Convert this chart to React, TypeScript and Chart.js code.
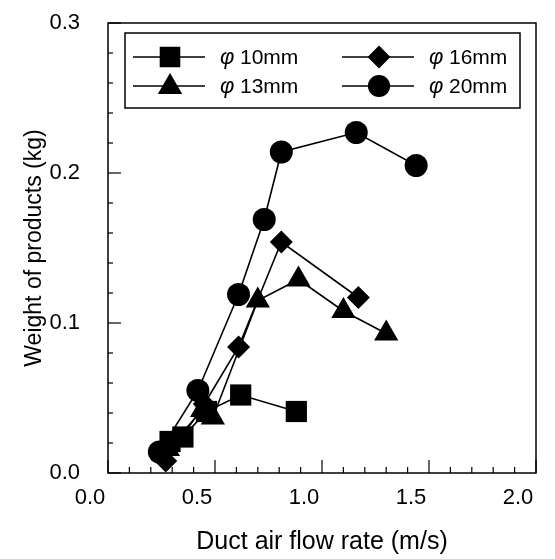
import React, { useEffect, useRef } from "react";
import { Chart, registerables } from "chart.js";
import { drawPoint } from "chart.js/helpers";

Chart.register(...registerables);

// ---- data ----
const seriesLabels = ["φ10mm", "φ13mm", "φ16mm", "φ20mm"];
const seriesStyles = ["rect", "triangle", "rectRot", "circle"];
const seriesRadii = [15, 14, 11.5, 11.5];

const d10X = [0.29, 0.35, 0.46, 0.62, 0.88];
const d10Y = [0.021, 0.024, 0.041, 0.052, 0.041];

const d13X = [0.28, 0.44, 0.49, 0.7, 0.89, 1.1, 1.3];
const d13Y = [0.016, 0.042, 0.037, 0.115, 0.129, 0.108, 0.093];

const d16X = [0.27, 0.45, 0.61, 0.81, 1.17];
const d16Y = [0.008, 0.046, 0.084, 0.154, 0.117];

const d20X = [0.24, 0.42, 0.61, 0.73, 0.81, 1.16, 1.44];
const d20Y = [0.014, 0.055, 0.119, 0.169, 0.214, 0.227, 0.205];

const xMin = 0, xMax = 2.0, xStep = 0.5, xMinor = 0.1;
const yMin = 0, yMax = 0.3, yStep = 0.1, yMinor = 0.02;
const xTitle = "Duct air flow rate (m/s)";
const yTitle = "Weight of products (kg)";

const FONT = "'Liberation Sans', Arial, Helvetica, sans-serif";

const pts = (xs: number[], ys: number[]) => xs.map((x, i) => ({ x, y: ys[i] }));

const frameLegendPlugin = {
  id: "frameLegend",
  afterDraw(chart: any) {
    const { ctx, chartArea: a, scales } = chart;
    const xs = scales.x, ys = scales.y;
    ctx.save();
    ctx.strokeStyle = "#000";
    ctx.lineWidth = 1.5;
    ctx.strokeRect(a.left, a.top, a.right - a.left, a.bottom - a.top);
    // inner ticks
    ctx.lineWidth = 1.2;
    const nx = Math.round((xMax - xMin) / xMinor);
    for (let i = 0; i <= nx; i++) {
      const v = xMin + i * xMinor;
      const px = xs.getPixelForValue(v);
      const len = i % Math.round(xStep / xMinor) === 0 ? 13 : 6;
      ctx.beginPath();
      ctx.moveTo(px, a.bottom);
      ctx.lineTo(px, a.bottom - len);
      ctx.stroke();
    }
    const ny = Math.round((yMax - yMin) / yMinor);
    for (let i = 0; i <= ny; i++) {
      const v = yMin + i * yMinor;
      const py = ys.getPixelForValue(v);
      const len = i % Math.round(yStep / yMinor) === 0 ? 13 : 5;
      ctx.beginPath();
      ctx.moveTo(a.left, py);
      ctx.lineTo(a.left + len, py);
      ctx.stroke();
    }
    // legend box
    const bx = a.left + 17, by = a.top + 10, bw = 395, bh = 75;
    ctx.lineWidth = 1.5;
    ctx.strokeRect(bx, by, bw, bh);
    const cols = [bx + 8, bx + 217];
    const rows = [by + 24, by + 53];
    const order = [0, 1, 2, 3];
    order.forEach((di, k) => {
      const col = cols[Math.floor(k / 2)];
      const row = rows[k % 2];
      ctx.strokeStyle = "#000";
      ctx.lineWidth = 1.5;
      ctx.beginPath();
      ctx.moveTo(col, row);
      ctx.lineTo(col + 72, row);
      ctx.stroke();
      ctx.fillStyle = "#000";
      drawPoint(ctx, { pointStyle: seriesStyles[di], radius: seriesRadii[di] * 0.9, rotation: 0, borderWidth: 1 }, col + 37, row + (seriesStyles[di] === "triangle" ? 1 : 0));
      const label = seriesLabels[di];
      ctx.textBaseline = "middle";
      ctx.textAlign = "left";
      ctx.font = `italic 22px ${FONT}`;
      ctx.fillText(label.charAt(0), col + 87, row + 1);
      ctx.font = `21px ${FONT}`;
      ctx.fillText(label.slice(1), col + 107, row + 1);
    });
    ctx.restore();
  },
};

export default function App() {
  const ref = useRef<HTMLCanvasElement | null>(null);
  useEffect(() => {
    if (!ref.current) return;
    const data = [
      pts(d10X, d10Y),
      pts(d13X, d13Y),
      pts(d16X, d16Y),
      pts(d20X, d20Y),
    ];
    const chart = new Chart(ref.current, {
      type: "scatter",
      data: {
        datasets: data.map((d, i) => ({
          label: seriesLabels[i],
          data: d,
          showLine: true,
          borderColor: "#000",
          backgroundColor: "#000",
          borderWidth: 1.6,
          pointStyle: seriesStyles[i] as any,
          pointRadius: seriesRadii[i],
          pointBorderWidth: 0,
          pointBackgroundColor: "#000",
          pointBorderColor: "#000",
        })),
      },
      options: {
        animation: false,
        responsive: false,
        maintainAspectRatio: false,
        layout: { padding: { left: 0, right: 19, top: 23, bottom: 0 } },
        plugins: { legend: { display: false }, tooltip: { enabled: false } },
        scales: {
          x: {
            type: "linear",
            min: xMin,
            max: xMax,
            grid: { display: false, drawTicks: false },
            border: { display: false },
            ticks: {
              stepSize: xStep,
              padding: 12,
              labelOffset: -18,
              color: "#000",
              font: { family: FONT, size: 22 },
              callback: (v: any) => Number(v).toFixed(1),
            },
            title: {
              display: true,
              text: xTitle,
              color: "#000",
              font: { family: FONT, size: 25 },
              padding: { top: 0, bottom: 2 },
            },
            afterFit: (s: any) => {
              s.height = 86;
              s.paddingLeft = 0;
              s.paddingRight = 0;
            },
          },
          y: {
            type: "linear",
            min: yMin,
            max: yMax,
            grid: { display: false, drawTicks: false },
            border: { display: false },
            ticks: {
              stepSize: yStep,
              padding: 28,
              color: "#000",
              font: { family: FONT, size: 22 },
              callback: (v: any) => Number(v).toFixed(1),
            },
            title: {
              display: true,
              text: yTitle,
              color: "#000",
              font: { family: FONT, size: 23 },
              padding: { top: 21, bottom: 0 },
            },
            afterFit: (s: any) => {
              s.width = 108;
              s.paddingTop = 0;
              s.paddingBottom = 0;
            },
          },
        },
      },
      plugins: [frameLegendPlugin],
    });
    return () => chart.destroy();
  }, []);
  return (
    <div style={{ position: "fixed", left: 0, top: 0, width: 555, height: 559, background: "#fff" }}>
      <canvas ref={ref} width={555} height={559} style={{ display: "block" }} />
    </div>
  );
}
